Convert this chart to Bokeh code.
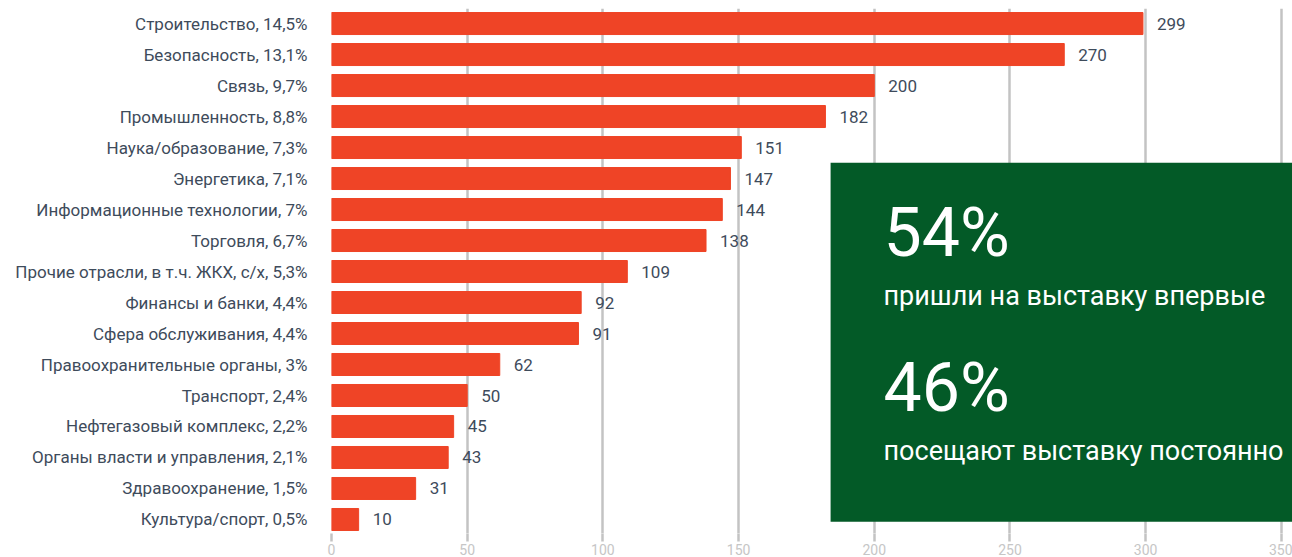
from bokeh.plotting import figure
from bokeh.models import Range1d, FixedTicker, BoxAnnotation, Label, ColumnDataSource
from bokeh.embed import file_html
from bokeh.resources import INLINE
from bokeh.core.properties import value

categories = [
    "Строительство, 14,5%",
    "Безопасность, 13,1%",
    "Связь, 9,7%",
    "Промышленность, 8,8%",
    "Наука/образование, 7,3%",
    "Энергетика, 7,1%",
    "Информационные технологии, 7%",
    "Торговля, 6,7%",
    "Прочие отрасли, в т.ч. ЖКХ, с/х, 5,3%",
    "Финансы и банки, 4,4%",
    "Сфера обслуживания, 4,4%",
    "Правоохранительные органы, 3%",
    "Транспорт, 2,4%",
    "Нефтегазовый комплекс, 2,2%",
    "Органы власти и управления, 2,1%",
    "Здравоохранение, 1,5%",
    "Культура/спорт, 0,5%",
]
values = [299, 270, 200, 182, 151, 147, 144, 138, 109, 92, 91, 62, 50, 45, 43, 31, 10]
x_ticks = [0, 50, 100, 150, 200, 250, 300, 350]
stat_big = ["54%", "46%"]
stat_text = ["пришли на выставку впервые", "посещают выставку постоянно"]

FONT = "Roboto"
DARK = "#3e4b5b"
BAR = "#ef4426"
GREEN = "#035a27"
GRID = "#c3c3c3"

n = len(categories)
ys = list(range(n - 1, -1, -1))
src = ColumnDataSource(dict(y=ys, v=values, lab=[str(v) for v in values]))

p = figure(width=1292, height=557, output_backend="svg", toolbar_location=None,
           x_range=Range1d(0, 354.1), y_range=Range1d(-0.452, n - 1 + 0.485),
           min_border_left=331, min_border_right=0, min_border_top=8)
p.outline_line_color = None
p.background_fill_color = "white"

p.hbar(y="y", right="v", left=0, height=0.71, source=src, color=BAR)
p.text(x="v", y="y", text="lab", source=src, x_offset=14, text_align="left",
       text_baseline="middle", text_font=value(FONT), text_font_size="17px",
       text_color=DARK)

# x axis
p.xaxis.ticker = FixedTicker(ticks=x_ticks)
p.xaxis.axis_line_color = None
p.xaxis.major_tick_out = 8
p.xaxis.major_tick_in = 0
p.xaxis.minor_tick_line_color = None
p.xaxis.major_tick_line_color = GRID
p.xaxis.major_tick_line_width = 2.5
p.xaxis.major_label_text_color = "#c6c6c6"
p.xaxis.major_label_text_font = FONT
p.xaxis.major_label_text_font_size = "14px"
p.xaxis.major_label_standoff = 2
p.xgrid.grid_line_color = GRID
p.xgrid.grid_line_width = 2.5
p.ygrid.grid_line_color = None

# y axis
p.yaxis.ticker = FixedTicker(ticks=ys)
p.yaxis.major_label_overrides = {y: c for y, c in zip(ys, categories)}
p.yaxis.axis_line_color = None
p.yaxis.major_tick_line_color = None
p.yaxis.minor_tick_line_color = None
p.yaxis.major_label_text_color = DARK
p.yaxis.major_label_text_font = FONT
p.yaxis.major_label_text_font_size = "17px"
p.yaxis.major_label_standoff = 18

# green panel
p.add_layout(BoxAnnotation(left=183.9, bottom=-0.07, top=11.51,
                           fill_color=GREEN, fill_alpha=1.0, line_color=None))
for i, (big, small) in enumerate(zip(stat_big, stat_text)):
    yb = 9.25 - i * 5.0
    p.add_layout(Label(x=203.4, y=yb, text=big, text_font=FONT,
                       text_font_size="68px", text_color="white",
                       text_baseline="middle", text_align="left"))
    p.add_layout(Label(x=203.4, y=yb - 2.05, text=small, text_font=FONT,
                       text_font_size="27px", text_color="white",
                       text_baseline="middle", text_align="left"))

open("out.html", "w").write(file_html(p, INLINE))
